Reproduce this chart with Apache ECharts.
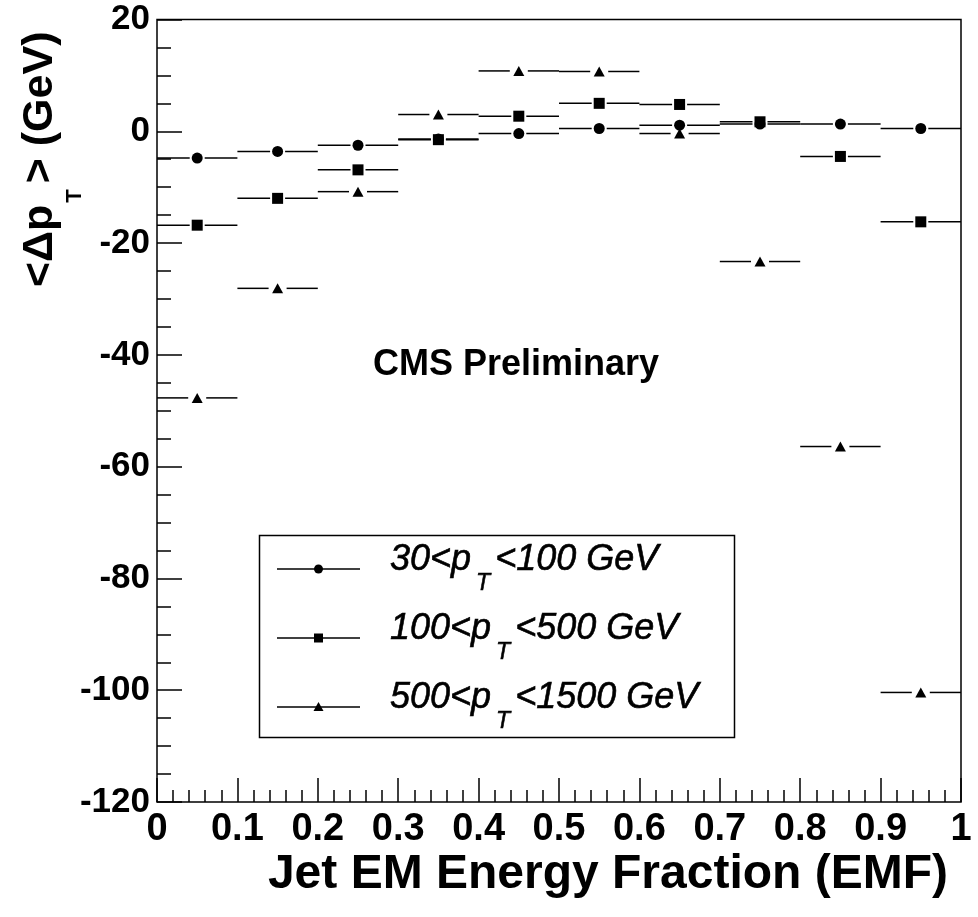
<!DOCTYPE html>
<html>
<head>
<meta charset="utf-8">
<script src="https://cdn.jsdelivr.net/npm/echarts@6/dist/echarts.min.js"></script>
<style>
html,body{margin:0;padding:0;background:#fff;}
#c{width:978px;height:917px;}
</style>
</head>
<body>
<div id="c"></div>
<script>
// ---- data ----
const emfBins = [0.05, 0.15, 0.25, 0.35, 0.45, 0.55, 0.65, 0.75, 0.85, 0.95];
const binHalfWidth = 0.05;
const ptLow  = [-4.8, -3.6, -2.5, -1.4, -0.4, 0.5, 1.1, 1.3, 1.3, 0.5];     // 30<pT<100 GeV
const ptMid  = [-16.8, -12.0, -6.9, -1.5, 2.7, 5.0, 4.8, 1.7, -4.5, -16.2]; // 100<pT<500 GeV
const ptHigh = [-47.7, -28.1, -10.8, 3.0, 10.8, 10.7, -0.4, -23.3, -56.4, -100.4]; // 500<pT<1500 GeV
const seriesNames = ['30<pT<100 GeV', '100<pT<500 GeV', '500<pT<1500 GeV'];
const legendParts = [['30<p', 'T', '<100 GeV'], ['100<p', 'T', '<500 GeV'], ['500<p', 'T', '<1500 GeV']];
const yTitleParts = ['<\u0394p', 'T', '> (GeV)'];
const xTitle = 'Jet EM Energy Fraction (EMF)';
const watermark = 'CMS Preliminary';

// ---- helpers ----
const FONT = 'Liberation Sans, Arial, Helvetica, sans-serif';
const mctx = document.createElement('canvas').getContext('2d');
function tw(t, font) { mctx.font = font; return mctx.measureText(t).width; }

function pairs(vals) { return emfBins.map((x, i) => [x, vals[i]]); }

function errBar(gap) {
  return function (params, api) {
    const x = api.value(0), y = api.value(1);
    const c = api.coord([x, y]);
    const l = api.coord([x - binHalfWidth, y]);
    const r = api.coord([x + binHalfWidth, y]);
    const st = { stroke: '#000', lineWidth: 1.5 };
    return {
      type: 'group',
      children: [
        { type: 'line', shape: { x1: l[0], y1: c[1], x2: c[0] - gap, y2: c[1] }, style: st },
        { type: 'line', shape: { x1: c[0] + gap, y1: c[1], x2: r[0], y2: c[1] }, style: st }
      ]
    };
  };
}

const chart = echarts.init(document.getElementById('c'), null, { renderer: 'canvas' });

// ---- legend (graphic) ----
const legendRowsY = [569, 638, 707];
const legendGraphics = [
  { type: 'rect', shape: { x: 259.5, y: 535.5, width: 475, height: 202 },
    style: { fill: '#fff', stroke: '#000', lineWidth: 1.5 }, z: 50 }
];
const legFont = 'italic normal 36px ' + FONT;
const legSubFont = 'italic normal 23px ' + FONT;
legendRowsY.forEach((ry, i) => {
  legendGraphics.push({ type: 'line', shape: { x1: 277, y1: ry, x2: 360, y2: ry },
    style: { stroke: '#000', lineWidth: 1.5 }, z: 51 });
  let m;
  if (i === 0) m = { type: 'circle', shape: { cx: 318.5, cy: ry, r: 4.5 } };
  else if (i === 1) m = { type: 'rect', shape: { x: 314, y: ry - 4.5, width: 9, height: 9 } };
  else m = { type: 'polygon', shape: { points: [[318.5, ry - 5], [323.5, ry + 4], [313.5, ry + 4]] } };
  m.style = { fill: '#000' }; m.z = 52;
  legendGraphics.push(m);
  const p = legendParts[i];
  const x0 = 390;
  const xT = x0 + tw(p[0], legFont) + 5;
  const x2 = xT + tw(p[1], legSubFont) + 5;
  const ts = { fill: '#000', stroke: '#000', lineWidth: 0.6, textAlign: 'left', textVerticalAlign: 'middle' };
  legendGraphics.push({ type: 'text', x: x0, y: ry - 9.5, z: 52,
    style: Object.assign({ text: p[0], font: legFont }, ts) });
  legendGraphics.push({ type: 'text', x: xT, y: ry + 14.3, z: 52,
    style: Object.assign({ text: p[1], font: legSubFont }, ts) });
  legendGraphics.push({ type: 'text', x: x2, y: ry - 9.5, z: 52,
    style: Object.assign({ text: p[2], font: legFont }, ts) });
});

// ---- y title (rotated, with subscript) ----
const yFont = 'bold 43px ' + FONT;
const ySubFont = 'bold 22px ' + FONT;
const yT = tw(yTitleParts[0], yFont) + 2;
const y2 = yT + tw(yTitleParts[1], ySubFont) + 6;
const yTitleGroup = {
  type: 'group', x: 40, y: 287, rotation: Math.PI / 2,
  children: [
    { type: 'text', x: 0, y: 0, style: { text: yTitleParts[0], font: yFont, fill: '#000', textAlign: 'left', textVerticalAlign: 'middle' } },
    { type: 'text', x: yT, y: 34.5, style: { text: yTitleParts[1], font: ySubFont, fill: '#000', textAlign: 'left', textVerticalAlign: 'middle' } },
    { type: 'text', x: y2, y: 0, style: { text: yTitleParts[2], font: yFont, fill: '#000', textAlign: 'left', textVerticalAlign: 'middle' } }
  ]
};

const option = {
  animation: false,
  backgroundColor: '#fff',
  grid: {
    left: 157, right: 17, top: 19.5, bottom: 115,
    show: true, borderColor: '#000', borderWidth: 1.5, backgroundColor: 'transparent',
    containLabel: false, outerBoundsMode: 'none'
  },
  xAxis: {
    type: 'value', min: 0, max: 1, interval: 0.1,
    axisLine: { show: false, onZero: false },
    splitLine: { show: false },
    axisTick: { inside: true, length: 24, lineStyle: { color: '#000', width: 1.5 } },
    minorTick: { show: true, splitNumber: 5, length: 12, lineStyle: { color: '#000', width: 1.5 } },
    minorSplitLine: { show: false },
    axisLabel: { color: '#000', fontFamily: FONT, fontWeight: 'bold', fontSize: 38, margin: 9,
      showMinLabel: true, showMaxLabel: true, hideOverlap: false }
  },
  yAxis: {
    type: 'value', min: -120, max: 20, interval: 20,
    axisLine: { show: false, onZero: false },
    splitLine: { show: false },
    axisTick: { inside: true, length: 25, lineStyle: { color: '#000', width: 1.5 } },
    minorTick: { show: true, splitNumber: 4, length: 14, lineStyle: { color: '#000', width: 1.5 } },
    minorSplitLine: { show: false },
    axisLabel: { color: '#000', fontFamily: FONT, fontWeight: 'bold', fontSize: 35, margin: 7,
      showMinLabel: true, showMaxLabel: true, hideOverlap: false }
  },
  series: [
    { type: 'custom', name: seriesNames[0] + ' err', data: pairs(ptLow), renderItem: errBar(7.5), z: 2, silent: true },
    { type: 'custom', name: seriesNames[1] + ' err', data: pairs(ptMid), renderItem: errBar(7.5), z: 2, silent: true },
    { type: 'custom', name: seriesNames[2] + ' err', data: pairs(ptHigh), renderItem: errBar(9), z: 2, silent: true },
    { type: 'scatter', name: seriesNames[0], data: pairs(ptLow), symbol: 'circle', symbolSize: 11,
      itemStyle: { color: '#000', opacity: 1 }, z: 3, silent: true },
    { type: 'scatter', name: seriesNames[1], data: pairs(ptMid), symbol: 'rect', symbolSize: 11,
      itemStyle: { color: '#000', opacity: 1 }, z: 4, silent: true },
    { type: 'scatter', name: seriesNames[2], data: pairs(ptHigh), symbol: 'triangle', symbolSize: [11, 10],
      itemStyle: { color: '#000', opacity: 1 }, z: 5, silent: true }
  ],
  graphic: [
    { type: 'text', x: 516, y: 365, style: { text: watermark, font: 'bold 36px ' + FONT, fill: '#000', textAlign: 'center', textVerticalAlign: 'middle' } },
    { type: 'text', x: 948, y: 875, style: { text: xTitle, font: 'bold 48px ' + FONT, fill: '#000', textAlign: 'right', textVerticalAlign: 'middle' } },
    yTitleGroup
  ].concat(legendGraphics)
};
chart.setOption(option);
</script>
</body>
</html>
